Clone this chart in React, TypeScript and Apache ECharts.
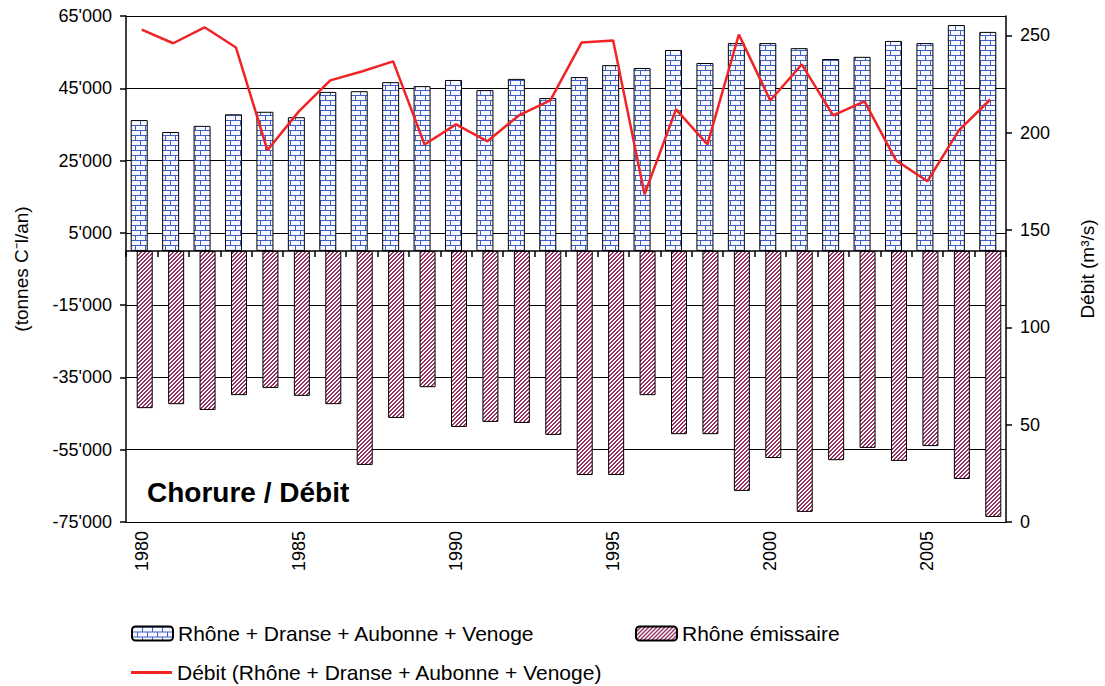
import React, { useEffect, useRef } from 'react';
import * as echarts from 'echarts';

const years = [
  '1980', '1981', '1982', '1983', '1984', '1985', '1986', '1987', '1988', '1989',
  '1990', '1991', '1992', '1993', '1994', '1995', '1996', '1997', '1998', '1999',
  '2000', '2001', '2002', '2003', '2004', '2005', '2006', '2007',
];

// Apports: Rhône + Dranse + Aubonne + Venoge (tonnes Cl-/an)
const inflowValues = [
  36200, 32900, 34600, 37800, 38500, 37000, 44000, 44200, 46700, 45600,
  47300, 44500, 47600, 42300, 48100, 51400, 50600, 55600, 52000, 57500,
  57500, 56100, 53100, 53700, 58100, 57500, 62500, 60600,
];

// Rhône émissaire (tonnes Cl-/an, négatif)
const outflowValues = [
  -43500, -42400, -44000, -39900, -37900, -40100, -42400, -59200, -46200, -37700,
  -48700, -47300, -47600, -50900, -62000, -62000, -39900, -50700, -50700, -66400,
  -57300, -72200, -57900, -54500, -58100, -54000, -63100, -73600,
];

// Débit (m3/s)
const flowValues = [
  253, 246, 254.2, 243.8, 191, 211, 226.9, 231.5, 236.7, 194,
  204.3, 195.6, 208.9, 216.6, 246.4, 247.4, 168.4, 212, 194, 250.5,
  216.6, 235.1, 208.9, 216.1, 185.8, 175.1, 201.2, 217.1,
];

const rightTicks = [0, 50, 100, 150, 200, 250];

const inflowName = 'Rhône + Dranse + Aubonne + Venoge';
const outflowName = 'Rhône émissaire';
const flowName = 'Débit (Rhône + Dranse + Aubonne + Venoge)';

const FONT = '"Liberation Sans", Arial, sans-serif';

function makeBrick(): HTMLCanvasElement {
  const c = document.createElement('canvas');
  c.width = 10;
  c.height = 10;
  const ctx = c.getContext('2d')!;
  ctx.fillStyle = '#f6f8fd';
  ctx.fillRect(0, 0, 10, 10);
  ctx.fillStyle = '#3f5fc4';
  ctx.fillRect(0, 0, 10, 1);
  ctx.fillRect(0, 5, 10, 1);
  ctx.fillRect(0, 0, 1, 5);
  ctx.fillRect(5, 5, 1, 5);
  return c;
}

function makeStripe(): HTMLCanvasElement {
  const c = document.createElement('canvas');
  c.width = 4;
  c.height = 4;
  const ctx = c.getContext('2d')!;
  for (let x = 0; x < 4; x++) {
    for (let y = 0; y < 4; y++) {
      ctx.fillStyle = (x + y) % 4 < 2 ? '#993366' : '#ffffff';
      ctx.fillRect(x, y, 1, 1);
    }
  }
  return c;
}

const fmtThousands = (v: number) => {
  const s = Math.abs(v).toString();
  const t = s.length > 3 ? s.slice(0, -3) + "'" + s.slice(-3) : s;
  return (v < 0 ? '-' : '') + t;
};

export default function App() {
  const ref = useRef<HTMLDivElement>(null);

  useEffect(() => {
    if (!ref.current) return;
    const chart = echarts.init(ref.current, undefined, { renderer: 'svg' });
    const brick = makeBrick();
    const stripe = makeStripe();

    const legendBase = {
      orient: 'horizontal' as const,
      padding: 0,
      itemWidth: 41,
      itemHeight: 14,
      itemGap: 5,
      selectedMode: false,
      textStyle: { fontSize: 21, color: '#000', fontFamily: FONT },
    };

    chart.setOption({
      animation: false,
      backgroundColor: '#ffffff',
      textStyle: { fontFamily: FONT },
      title: {
        text: 'Chorure / Débit',
        left: 142,
        top: 473,
        textStyle: { fontSize: 28, fontWeight: 'bold', color: '#000', fontFamily: FONT },
      },
      legend: [
        { ...legendBase, left: 131, top: 623, data: [inflowName] },
        { ...legendBase, left: 635, top: 623, data: [outflowName] },
        {
          ...legendBase,
          left: 131,
          top: 662,
          itemHeight: 3,
          data: [{ name: flowName, icon: 'rect' }],
        },
      ],
      grid: { left: 126, right: 97, top: 16, bottom: 164, containLabel: false },
      xAxis: [
        {
          type: 'category',
          data: years,
          position: 'bottom',
          axisLine: { show: true, onZero: true, onZeroAxisIndex: 0, lineStyle: { color: '#000', width: 1.5 } },
          axisTick: { show: true, interval: 0, inside: false, length: 6, lineStyle: { color: '#000', width: 1.5 } },
          axisLabel: { show: false },
          splitLine: { show: false },
        },
        {
          type: 'category',
          data: years,
          position: 'bottom',
          axisLine: { show: false, onZero: false },
          axisTick: { show: false },
          axisLabel: {
            show: true,
            interval: 4,
            rotate: 90,
            margin: 9,
            fontSize: 18,
            color: '#000',
            fontFamily: FONT,
          },
          splitLine: { show: false },
        },
      ],
      yAxis: [
        {
          type: 'value',
          position: 'left',
          min: -75000,
          max: 65000,
          interval: 20000,
          name: '(tonnes C\u207Bl/an)',
          nameLocation: 'middle',
          nameGap: 95,
          nameTextStyle: { fontSize: 19, color: '#000', fontFamily: FONT },
          axisLine: { show: true, onZero: false, lineStyle: { color: '#000', width: 1.5 } },
          axisTick: { show: true, inside: false, length: 6, lineStyle: { color: '#000', width: 1.5 } },
          axisLabel: { formatter: fmtThousands, margin: 14, fontSize: 18, color: '#000', fontFamily: FONT },
          splitLine: { show: true, lineStyle: { color: '#000', width: 1 } },
        },
        {
          type: 'value',
          position: 'right',
          min: 0,
          max: 260,
          interval: 50,
          name: 'Débit (m³/s)',
          nameLocation: 'middle',
          nameGap: 72,
          nameTextStyle: { fontSize: 19, color: '#000', fontFamily: FONT },
          axisLine: { show: true, onZero: false, lineStyle: { color: '#000', width: 1.5 } },
          axisTick: {
            show: true,
            inside: false,
            length: 6,
            customValues: rightTicks,
            lineStyle: { color: '#000', width: 1.5 },
          },
          axisLabel: {
            customValues: rightTicks,
            margin: 14,
            fontSize: 18,
            color: '#000',
            fontFamily: FONT,
          },
          splitLine: { show: false },
        },
      ],
      series: [
        {
          name: inflowName,
          type: 'bar',
          xAxisIndex: 0,
          yAxisIndex: 0,
          data: inflowValues,
          barWidth: 17,
          barGap: '-64.7%',
          itemStyle: {
            color: { image: brick, repeat: 'repeat' },
            borderColor: '#000',
            borderWidth: 1,
          },
          z: 2,
        },
        {
          name: outflowName,
          type: 'bar',
          xAxisIndex: 0,
          yAxisIndex: 0,
          data: outflowValues,
          barWidth: 16,
          barGap: '-64.7%',
          itemStyle: {
            color: { image: stripe, repeat: 'repeat' },
            borderColor: '#000',
            borderWidth: 1,
          },
          z: 2,
        },
        {
          name: flowName,
          type: 'line',
          xAxisIndex: 0,
          yAxisIndex: 1,
          data: flowValues,
          symbol: 'none',
          lineStyle: { color: '#f02424', width: 2.5 },
          itemStyle: { color: '#f02424' },
          z: 5,
        },
      ],
    });

    return () => chart.dispose();
  }, []);

  return (
    <div
      ref={ref}
      style={{ position: 'fixed', left: 0, top: 0, width: 1105, height: 686, background: '#fff' }}
    />
  );
}
